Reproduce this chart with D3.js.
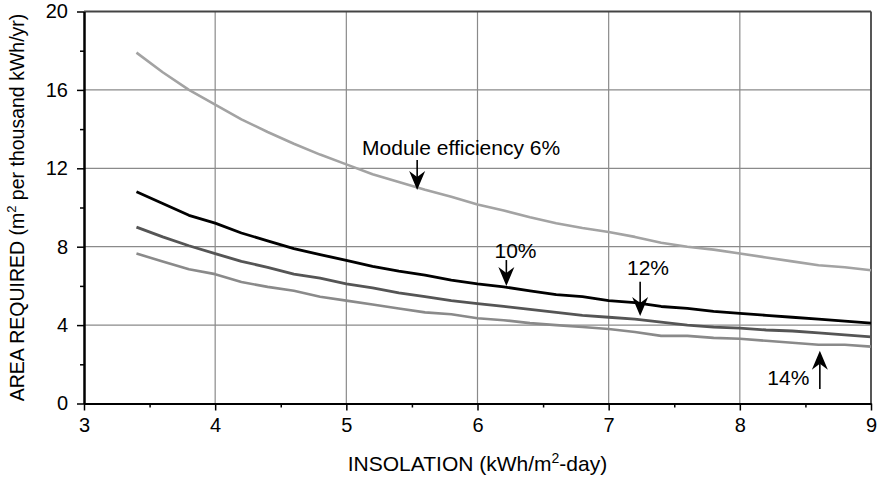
<!DOCTYPE html>
<html>
<head>
<meta charset="utf-8">
<script src="https://cdn.jsdelivr.net/npm/d3@7"></script>
<style>
body { margin: 0; background: #fff; }
text { font-family: "Liberation Sans", Arial, Helvetica, sans-serif; fill: #000; }
</style>
</head>
<body>
<div id="chart-area"></div>
<script>
// insolation values (kWh/m2-day)
var insolation = [3.4, 3.6, 3.8, 4.0, 4.2, 4.4, 4.6, 4.8, 5.0, 5.2, 5.4, 5.6, 5.8, 6.0, 6.2,
	6.4, 6.6, 6.8, 7.0, 7.2, 7.4, 7.6, 7.8, 8.0, 8.2, 8.4, 8.6, 8.8, 9.0];

// area required, m2 per thousand kWh/yr
var eff6  = [17.9, 16.9, 16.0, 15.25, 14.5, 13.85, 13.25, 12.7, 12.2, 11.7, 11.3, 10.9, 10.55, 10.15, 9.85,
	9.5, 9.2, 8.95, 8.75, 8.5, 8.2, 8.0, 7.85, 7.65, 7.45, 7.25, 7.05, 6.95, 6.8];
var eff10 = [10.8, 10.2, 9.6, 9.2, 8.7, 8.3, 7.9, 7.6, 7.3, 7.0, 6.75, 6.55, 6.3, 6.1, 5.95,
	5.75, 5.55, 5.45, 5.25, 5.15, 4.95, 4.85, 4.7, 4.6, 4.5, 4.4, 4.3, 4.2, 4.1];
var eff12 = [9.0, 8.5, 8.05, 7.65, 7.25, 6.95, 6.6, 6.4, 6.1, 5.9, 5.65, 5.45, 5.25, 5.1, 4.95,
	4.8, 4.65, 4.5, 4.4, 4.3, 4.15, 4.0, 3.9, 3.85, 3.75, 3.7, 3.6, 3.5, 3.4];
var eff14 = [7.65, 7.25, 6.85, 6.6, 6.2, 5.95, 5.75, 5.45, 5.25, 5.05, 4.85, 4.65, 4.55, 4.35, 4.25,
	4.1, 4.0, 3.9, 3.8, 3.65, 3.45, 3.45, 3.35, 3.3, 3.2, 3.1, 3.0, 3.0, 2.9];

var xTicks = [3, 4, 5, 6, 7, 8, 9];
var xMinor = [3.5, 4.5, 5.5, 6.5, 7.5, 8.5];
var yTicks = [0, 4, 8, 12, 16, 20];
var yMinor = [2, 6, 10, 14, 18];

var width = 878;
var height = 480;
var margin = {top: 11.5, right: 7, bottom: 76.5, left: 84};
var w = width - margin.left - margin.right;
var h = height - margin.top - margin.bottom;

var svg = d3.select("#chart-area")
	.append("svg")
		.attr("width", width)
		.attr("height", height);

var g = svg.append("g")
	.attr("transform", "translate(" + margin.left + ", " + margin.top + ")");

var x = d3.scaleLinear().domain([3, 9]).range([0, w]);
var y = d3.scaleLinear().domain([0, 20]).range([h, 0]);

// grid
g.append("g").selectAll("line").data(xTicks.slice(1, -1))
	.enter().append("line")
	.attr("x1", (d) => x(d)).attr("x2", (d) => x(d))
	.attr("y1", 0).attr("y2", h)
	.attr("stroke", "#8a8a8a").attr("stroke-width", 1.2);
g.append("g").selectAll("line").data(yTicks.slice(1, -1))
	.enter().append("line")
	.attr("y1", (d) => y(d)).attr("y2", (d) => y(d))
	.attr("x1", 0).attr("x2", w)
	.attr("stroke", "#8a8a8a").attr("stroke-width", 1.2);

// frame top / right
g.append("line").attr("x1", 0).attr("x2", w).attr("y1", 0).attr("y2", 0)
	.attr("stroke", "#444").attr("stroke-width", 1.8);
g.append("line").attr("x1", w).attr("x2", w).attr("y1", 0).attr("y2", h)
	.attr("stroke", "#444").attr("stroke-width", 1.8);

// axes
var leftAxis = d3.axisLeft(y).tickValues(yTicks).tickSize(7).tickSizeOuter(0).tickPadding(9);
var leftMinor = d3.axisLeft(y).tickValues(yMinor).tickSize(4).tickSizeOuter(0).tickFormat("");
var bottomAxis = d3.axisBottom(x).tickValues(xTicks).tickSize(7).tickSizeOuter(0).tickPadding(7.5)
	.tickFormat(d3.format("d"));
var bottomMinor = d3.axisBottom(x).tickValues(xMinor).tickSize(4).tickSizeOuter(0).tickFormat("");

g.append("g").attr("class", "axis").call(leftMinor);
g.append("g").attr("class", "axis").call(leftAxis);
g.append("g").attr("class", "axis").attr("transform", "translate(0, " + h + ")").call(bottomMinor);
g.append("g").attr("class", "axis").attr("transform", "translate(0, " + h + ")").call(bottomAxis);

g.selectAll(".axis path").attr("stroke", "#000").attr("stroke-width", 2);
g.selectAll(".axis line").attr("stroke", "#000").attr("stroke-width", 1.5);
g.selectAll(".axis text")
	.attr("font-size", "20px")
	.style("font-family", "'Liberation Sans', Arial, sans-serif")
	.attr("fill", "#000");

// series
var series = [
	{values: eff6, color: "#a3a3a3", sw: 2.6},
	{values: eff14, color: "#8a8a8a", sw: 2.6},
	{values: eff12, color: "#555555", sw: 2.8},
	{values: eff10, color: "#000000", sw: 2.8}
];

var line = d3.line()
	.x((d) => x(d[0]))
	.y((d) => y(d[1]));

series.forEach((s) => {
	g.append("path")
		.datum(insolation.map((v, i) => [v, s.values[i]]))
		.attr("d", line)
		.attr("fill", "none")
		.attr("stroke", s.color)
		.attr("stroke-width", s.sw)
		.attr("stroke-linejoin", "round");
});

// annotations (data coordinates)
var notes = [
	{label: "Module efficiency 6%", tx: 5.12, ty: 12.67, anchor: "start", ax: 5.54, from: 12.42, to: 10.89},
	{label: "10%", tx: 6.29, ty: 7.42, anchor: "middle", ax: 6.22, from: 7.32, to: 5.99},
	{label: "12%", tx: 7.30, ty: 6.56, anchor: "middle", ax: 7.24, from: 6.21, to: 4.46},
	{label: "14%", tx: 8.53, ty: 0.94, anchor: "end", ax: 8.61, from: 0.74, to: 2.69}
];

notes.forEach((n) => {
	g.append("text")
		.attr("x", x(n.tx))
		.attr("y", y(n.ty))
		.attr("text-anchor", n.anchor)
		.attr("font-size", "21px")
		.text(n.label);

	var x0 = x(n.ax), y0 = y(n.from), y1 = y(n.to);
	var dir = y1 > y0 ? 1 : -1;
	var hl = 19, hw = 8, notch = 6;
	g.append("line")
		.attr("x1", x0).attr("x2", x0)
		.attr("y1", y0).attr("y2", y1 - dir * (hl - notch))
		.attr("stroke", "#000").attr("stroke-width", 1.6);
	g.append("path")
		.attr("d", "M" + x0 + "," + y1 +
			"L" + (x0 - hw) + "," + (y1 - dir * hl) +
			"L" + x0 + "," + (y1 - dir * (hl - notch)) +
			"L" + (x0 + hw) + "," + (y1 - dir * hl) + "Z")
		.attr("fill", "#000");
});

// axis titles
var xLabel = svg.append("text")
	.attr("x", margin.left + w / 2)
	.attr("y", 471)
	.attr("text-anchor", "middle")
	.attr("font-size", "21px");
xLabel.append("tspan").text("INSOLATION (kWh/m");
xLabel.append("tspan").attr("font-size", "14px").attr("dy", -8).text("2");
xLabel.append("tspan").attr("dy", 8).text("-day)");

var yLabel = svg.append("text")
	.attr("transform", "translate(24, " + (margin.top + h / 2) + ") rotate(-90)")
	.attr("text-anchor", "middle")
	.attr("font-size", "19.5px");
yLabel.append("tspan").text("AREA REQUIRED (m");
yLabel.append("tspan").attr("font-size", "13px").attr("dy", -8).text("2");
yLabel.append("tspan").attr("dy", 8).text(" per thousand kWh/yr)");
</script>
</body>
</html>
